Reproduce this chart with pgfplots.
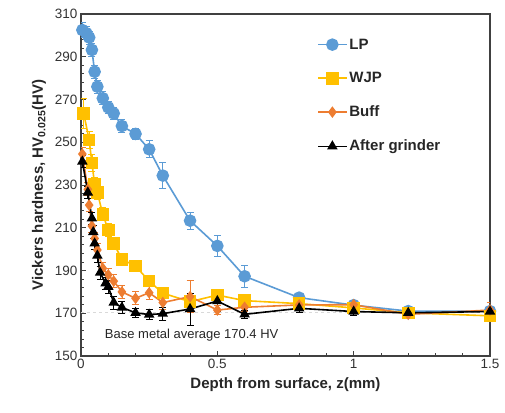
\documentclass[border=0pt]{standalone}
\usepackage{pgfplots}
\pgfplotsset{compat=1.18}
\usepackage{fontspec}
\setmainfont{Liberation Sans}
\definecolor{lpblue}{HTML}{5B9BD5}
\definecolor{wjpgold}{HTML}{FFC000}
\definecolor{bufforange}{HTML}{ED7D31}
\begin{document}
\begin{tikzpicture}
\begin{axis}[
  scale only axis, width=409pt, height=342pt,
  xmin=0, xmax=1.5, ymin=150, ymax=310,
  xtick={0,0.5,1,1.5}, ytick={150,170,...,310},
  minor x tick num=4, minor y tick num=4,
  xtick pos=left, ytick pos=left, tick align=inside,
  major tick length=5pt, minor tick length=3pt,
  tick style={black!75, line width=0.8pt},
  axis line style={black!75, line width=1.2pt},
  /pgf/number format/assume math mode=true,
  ticklabel style={font=\fontsize{13.5}{15}\selectfont, text=black!80},
  xlabel={Depth from surface, z(mm)},
  ylabel={Vickers hardness, HV\textsubscript{0.025}(HV)},
  label style={font=\fontsize{15}{17}\selectfont\bfseries, text=black!85},
  xlabel style={yshift=-2pt},
  ylabel style={yshift=2pt},
  legend style={at={(rel axis cs:0.57,0.94)}, anchor=north west, draw=none, fill=none,
    font=\fontsize{15}{17}\selectfont\bfseries, text=black!85, row sep=17.8pt, cells={anchor=west}},
  legend image code/.code={\draw[mark repeat=2, mark phase=2, #1] plot coordinates {(0cm,0cm) (0.5cm,0cm) (1.0cm,0cm)};},
  every axis plot/.append style={line width=1.6pt},
  error bars/y dir=both, error bars/y explicit,
  error bars/error mark options={rotate=90, mark size=3.5pt, line width=0.8pt},
  error bars/error bar style={line width=0.8pt},
]
\coordinate (sw) at (rel axis cs:0,0);
\addplot[black!15, dashed, line width=1.2pt, forget plot, error bars/y dir=none] coordinates {(0,170.4) (1.5,170.4)};
\addplot[lpblue, mark=*, mark size=5.5pt, mark options={fill=lpblue, draw=lpblue}] coordinates {
(0.005,302.5) +- (0,3.5)
(0.02,301) +- (0,3)
(0.03,299) +- (0,3)
(0.04,293.2) +- (0,3)
(0.05,283) +- (0,3)
(0.06,276) +- (0,3)
(0.08,270.6) +- (0,3)
(0.1,266.3) +- (0,3)
(0.12,263.5) +- (0,3)
(0.15,257.6) +- (0,3)
(0.2,253.9) +- (0,2.5)
(0.25,246.7) +- (0,4)
(0.3,234.4) +- (0,6)
(0.4,213.3) +- (0,4)
(0.5,201.5) +- (0,5)
(0.6,187.3) +- (0,5)
(0.8,177.3) +- (0,2)
(1.0,173.8) +- (0,1.5)
(1.2,171) +- (0,1.5)
(1.5,171) +- (0,1.5)
};
\addlegendentry{LP}
\addplot[wjpgold, mark=square*, mark size=5.5pt, mark options={fill=wjpgold, draw=wjpgold}] coordinates {
(0.01,263.5) +- (0,7)
(0.03,251) +- (0,4)
(0.04,240.3) +- (0,4)
(0.05,230.4) +- (0,3)
(0.06,226.4) +- (0,3)
(0.08,216.3) +- (0,3)
(0.1,208.9) +- (0,3)
(0.12,202.7) +- (0,3)
(0.15,195.2) +- (0,2)
(0.2,192.1) +- (0,2)
(0.25,185) +- (0,2)
(0.3,179.4) +- (0,2)
(0.4,175.4) +- (0,2)
(0.5,178.5) +- (0,2)
(0.6,175.9) +- (0,1.5)
(0.8,174.5) +- (0,1.5)
(1.0,172.5) +- (0,1.5)
(1.2,170.2) +- (0,1.5)
(1.5,168.8) +- (0,1.5)
};
\addlegendentry{WJP}
\addplot[bufforange, mark=diamond*, mark size=4.5pt, mark options={fill=bufforange, draw=bufforange}] coordinates {
(0.005,244.5) +- (0,3)
(0.025,228) +- (0,3)
(0.03,220.6) +- (0,3)
(0.04,210.8) +- (0,3)
(0.05,205) +- (0,3)
(0.06,199.6) +- (0,3)
(0.08,191) +- (0,3)
(0.1,188) +- (0,3)
(0.12,185) +- (0,3)
(0.15,180) +- (0,3)
(0.2,177) +- (0,3)
(0.25,179.6) +- (0,3)
(0.3,175) +- (0,3)
(0.4,177.8) +- (0,7.5)
(0.5,171.5) +- (0,2)
(0.6,172.8) +- (0,2)
(0.8,173.9) +- (0,2)
(1.0,174) +- (0,2)
(1.2,169.5) +- (0,2)
(1.5,171.5) +- (0,3.5)
};
\addlegendentry{Buff}
\addplot[black, mark=triangle*, mark size=4.5pt, mark options={fill=black, draw=black}] coordinates {
(0.005,241) +- (0,3)
(0.025,226.5) +- (0,3)
(0.04,214.4) +- (0,3)
(0.045,208) +- (0,3)
(0.05,202.7) +- (0,3)
(0.06,197) +- (0,3)
(0.07,189) +- (0,3)
(0.09,184) +- (0,3)
(0.1,182.4) +- (0,3)
(0.12,175) +- (0,3)
(0.15,172.7) +- (0,3)
(0.2,170.2) +- (0,2)
(0.25,169.4) +- (0,2.5)
(0.3,169.8) +- (0,3)
(0.4,172) +- (0,7.5)
(0.5,175.7) +- (0,5)
(0.6,169.5) +- (0,2)
(0.8,172.3) +- (0,2)
(1.0,170.8) +- (0,2)
(1.2,170.2) +- (0,2)
(1.5,170.8) +- (0,2)
};
\addlegendentry{After grinder}
\node[anchor=west, font=\fontsize{13}{15}\selectfont, text=black!85] at (axis cs:0.075,159.6) {Base metal average 170.4 HV};
\end{axis}
\pgfresetboundingbox
\path (sw) ++(-81pt,-56pt) rectangle ++(505pt,412pt);
\end{tikzpicture}
\end{document}
